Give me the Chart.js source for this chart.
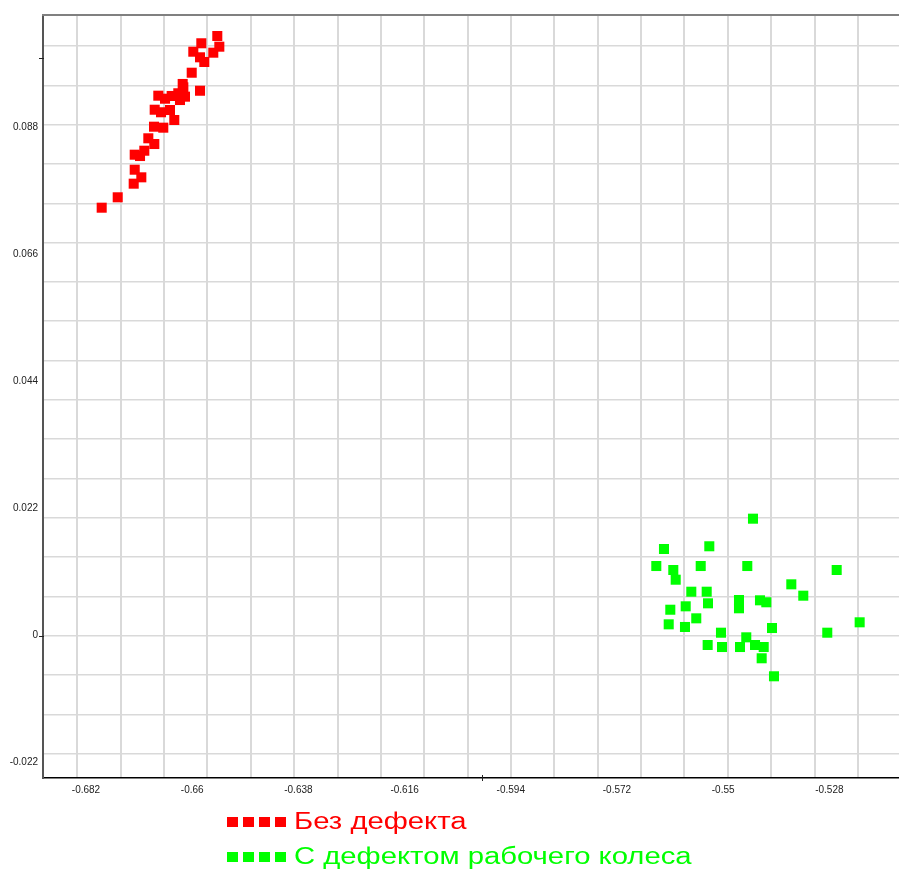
<!DOCTYPE html>
<html>
<head>
<meta charset="utf-8">
<script src="https://cdn.jsdelivr.net/npm/chart.js@4.4.1/dist/chart.umd.min.js"></script>
<style>
  html, body { margin: 0; padding: 0; background: #fff; }
</style>
</head>
<body>
<canvas id="chart" width="899" height="871"></canvas>
<script>
// series labels
const seriesLabels = ["Без дефекта", "С дефектом рабочего колеса"]
const seriesColors = ["#ff0000", "#00ff00"]

// без дефекта
const defectFreeX = [-0.67875, -0.67543, -0.67212, -0.67054, -0.67191, -0.67191, -0.67081, -0.66992, -0.66909, -0.66785, -0.66791, -0.66599, -0.66371, -0.66777, -0.66646, -0.66460, -0.66702, -0.66563, -0.66425, -0.66253, -0.66288, -0.66184, -0.66149, -0.66197, -0.65838, -0.66010, -0.65977, -0.65811, -0.65838, -0.65749, -0.65563, -0.65438, -0.65480, -0.66190]
const defectFreeY = [0.07414, 0.07594, 0.07830, 0.07940, 0.08072, 0.08332, 0.08309, 0.08401, 0.08616, 0.08517, 0.08817, 0.08800, 0.08933, 0.09111, 0.09067, 0.09106, 0.09354, 0.09302, 0.09349, 0.09279, 0.09396, 0.09499, 0.09337, 0.09557, 0.09440, 0.09752, 0.10116, 0.10262, 0.10019, 0.09938, 0.10099, 0.10203, 0.10388, 0.09453]

// с дефектом рабочего колеса
const impellerX = [-0.54382, -0.56226, -0.55287, -0.56385, -0.56033, -0.55983, -0.55465, -0.54500, -0.52648, -0.53588, -0.53340, -0.55660, -0.55341, -0.54672, -0.54672, -0.54237, -0.54106, -0.56095, -0.55776, -0.55314, -0.55557, -0.56128, -0.55791, -0.55045, -0.53988, -0.52172, -0.52843, -0.55321, -0.55024, -0.54521, -0.54651, -0.54340, -0.54160, -0.54202, -0.53947]
const impellerY = [0.02027, 0.01502, 0.01549, 0.01207, 0.01138, 0.00970, 0.01207, 0.01207, 0.01138, 0.00890, 0.00693, 0.00762, 0.00762, 0.00618, 0.00475, 0.00613, 0.00579, 0.00450, 0.00509, 0.00561, 0.00301, 0.00197, 0.00151, 0.00052, 0.00133, 0.00232, 0.00052, -0.00161, -0.00196, -0.00028, -0.00196, -0.00161, -0.00196, -0.00391, -0.00703]

// tick labels
const xTickValues = [-0.682, -0.66, -0.638, -0.616, -0.594, -0.572, -0.55, -0.528]
const yTickValues = [-0.022, 0, 0.022, 0.044, 0.066, 0.088]
// small marks on the axes
const xAxisMarks = [-0.6]
const yAxisMarks = [0, 0.1]

// axis range and grid (grid is not tied to labels in the original)
const xMin = -0.69091, xMax = -0.51357
const yMin = -0.024649, yMax = 0.107518
const gridXStart = -0.6838, gridXStep = 0.008985, gridXCount = 19
const gridYStart = -0.020427, gridYStep = 0.006809, gridYCount = 19

const toPoints = (xs, ys) => xs.map((x, i) => ({ x: x, y: ys[i] }))
const fmt = v => String(Number(Number(v).toFixed(3)))
const setTicks = values => scale => { scale.ticks = values.map(v => ({ value: v })) }

const gridX = []
for (let k = 0; k < gridXCount; k++) gridX.push(gridXStart + k * gridXStep)
const gridY = []
for (let k = 0; k < gridYCount; k++) gridY.push(gridYStart + k * gridYStep)

const tickFont = { family: "'Liberation Sans', Arial, sans-serif", size: 10 }

// axis marks + legend drawn on the canvas
const extras = {
  id: "extras",
  afterDraw(chart) {
    const ctx = chart.ctx
    const xs = chart.scales.x
    const ys = chart.scales.y
    const area = chart.chartArea

    ctx.save()
    ctx.strokeStyle = "#222"
    ctx.lineWidth = 1
    xAxisMarks.forEach(v => {
      const px = Math.round(xs.getPixelForValue(v)) + 0.5
      ctx.beginPath()
      ctx.moveTo(px, area.bottom - 3)
      ctx.lineTo(px, area.bottom + 3)
      ctx.stroke()
    })
    yAxisMarks.forEach(v => {
      const py = Math.round(ys.getPixelForValue(v)) + 0.5
      ctx.beginPath()
      ctx.moveTo(area.left - 4, py)
      ctx.lineTo(area.left + 1, py)
      ctx.stroke()
    })
    ctx.restore()

    // legend
    ctx.save()
    ctx.font = "22px 'Liberation Sans', Arial, sans-serif"
    ctx.textBaseline = "alphabetic"
    chart.data.datasets.forEach((ds, i) => {
      const cy = 822 + i * 35
      ctx.fillStyle = ds.backgroundColor
      for (let j = 0; j < 4; j++) {
        ctx.fillRect(227 + j * 16, cy - 5, 11, 10)
      }
      ctx.save()
      ctx.translate(294, cy + 7)
      ctx.scale(1.33, 1.05)
      ctx.fillText(ds.label, 0, 0)
      ctx.restore()
    })
    ctx.restore()
  }
}

new Chart(document.getElementById("chart"), {
  type: "scatter",
  data: {
    datasets: [
      {
        label: seriesLabels[0],
        data: toPoints(defectFreeX, defectFreeY),
        backgroundColor: seriesColors[0],
        borderWidth: 0,
        pointStyle: "rect",
        pointRadius: 7.1,
        pointHoverRadius: 7.1
      },
      {
        label: seriesLabels[1],
        data: toPoints(impellerX, impellerY),
        backgroundColor: seriesColors[1],
        borderWidth: 0,
        pointStyle: "rect",
        pointRadius: 7.1,
        pointHoverRadius: 7.1
      }
    ]
  },
  options: {
    responsive: false,
    animation: false,
    events: [],
    layout: { autoPadding: false, padding: { top: 15, bottom: 73, left: 0, right: 0 } },
    plugins: {
      legend: { display: false },
      tooltip: { enabled: false }
    },
    scales: {
      x: {
        type: "linear",
        position: "bottom",
        min: xMin,
        max: xMax,
        afterBuildTicks: setTicks(xTickValues),
        afterFit: s => { s.height = 20 },
        grid: { display: false, drawTicks: false },
        border: { display: true, color: "#000", width: 1.5 },
        ticks: { padding: 6, font: tickFont, color: "#222", maxRotation: 0, autoSkip: false, callback: v => fmt(v) }
      },
      y: {
        type: "linear",
        position: "left",
        min: yMin,
        max: yMax,
        afterBuildTicks: setTicks(yTickValues),
        afterFit: s => { s.width = 43 },
        grid: { display: false, drawTicks: false },
        border: { display: true, color: "#555", width: 2 },
        ticks: { padding: 5, font: tickFont, color: "#222", autoSkip: false, callback: v => fmt(v) }
      },
      xg: {
        type: "linear",
        position: "top",
        min: xMin,
        max: xMax,
        afterBuildTicks: setTicks(gridX),
        grid: { color: "#d9d9d9", lineWidth: 2, drawTicks: false },
        border: { display: true, color: "#808080", width: 2 },
        ticks: { display: false }
      },
      yg: {
        type: "linear",
        position: "right",
        min: yMin,
        max: yMax,
        afterBuildTicks: setTicks(gridY),
        grid: { color: "#d9d9d9", lineWidth: 1.5, drawTicks: false },
        border: { display: false },
        ticks: { display: false }
      }
    }
  },
  plugins: [extras]
})
</script>
</body>
</html>
